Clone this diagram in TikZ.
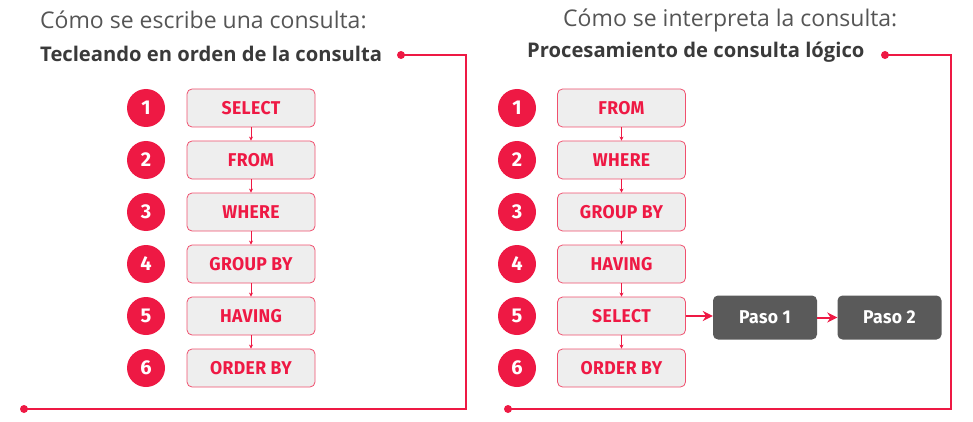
\documentclass[tikz,border=0pt]{standalone}
\usepackage{fontspec}
\setmainfont{Open Sans}
\newfontfamily\boxfont[FakeStretch=0.95,LetterSpace=2]{Fira Sans}
\newfontfamily\numfont{Fira Sans}
\usetikzlibrary{arrows.meta}
\definecolor{sqlred}{HTML}{EE1944}
\definecolor{boxedge}{HTML}{F0506E}
\definecolor{boxfill}{HTML}{EEEEEE}
\definecolor{titlegray}{HTML}{555555}
\definecolor{subgray}{HTML}{3A3A3A}
\definecolor{pasogray}{HTML}{5A5A5A}
\tikzset{
  sqlbox/.style={draw=boxedge, line width=0.8pt, fill=boxfill, rounded corners=5pt,
    minimum width=128pt, minimum height=38pt, inner sep=0pt,
    text=sqlred, font=\boxfont\bfseries\fontsize{18.5}{18.5}\selectfont},
  numcirc/.style={circle, fill=sqlred, minimum size=38pt, inner sep=0pt,
    text=white, font=\numfont\bfseries\fontsize{20}{20}\selectfont},
  pasobox/.style={fill=pasogray, rounded corners=5pt, minimum height=44pt, inner sep=0pt,
    text=white, font=\boxfont\bfseries\fontsize{18.5}{18.5}\selectfont},
  smallarr/.style={draw=sqlred, line width=0.7pt, -{Stealth[length=4pt,width=4pt]}},
  bigarr/.style={draw=sqlred, line width=2pt, -{Stealth[length=10pt,width=10pt]}},
  frame/.style={draw=sqlred, line width=1.8pt},
  title/.style={text=titlegray, font=\fontsize{23}{25}\selectfont, inner sep=0pt, anchor=west},
  subtitle/.style={text=subgray, font=\bfseries\fontsize{20.2}{22}\selectfont, inner sep=0pt, anchor=west},
}
\begin{document}
\begin{tikzpicture}[x=1pt,y=-1pt]
\useasboundingbox (0,0) rectangle (973,422);
% titles
\node[title] (lt) at (40,20) {Cómo se escribe una consulta:};
\node[subtitle] (ls) at (40,54) {Tecleando en orden de la consulta};
\node[title] (rt) at (563,20) {Cómo se interpreta la consulta:};
\node[subtitle] (rs) at (527,52) {Procesamiento de consulta lógico};
% left column
\foreach \i/\t in {1/SELECT,2/FROM,3/WHERE,4/GROUP BY,5/HAVING,6/ORDER BY}{
  \node[numcirc] (lc\i) at (146,{108+52*(\i-1)}) {\i};
  \node[sqlbox] (lb\i) at (251,{108+52*(\i-1)}) {\t};
}
\foreach \i/\j in {1/2,2/3,3/4,4/5,5/6}{ \draw[smallarr] (lb\i) -- (lb\j); }
% right column
\foreach \i/\t in {1/FROM,2/WHERE,3/GROUP BY,4/HAVING,5/SELECT,6/ORDER BY}{
  \node[numcirc] (rc\i) at (517,{108+52*(\i-1)}) {\i};
  \node[sqlbox] (rb\i) at (621.5,{108+52*(\i-1)}) {\t};
}
\foreach \i/\j in {1/2,2/3,3/4,4/5,5/6}{ \draw[smallarr] (rb\i) -- (rb\j); }
\node[pasobox, minimum width=104pt] (p1) at (765,317.5) {Paso 1};
\node[pasobox, minimum width=104pt] (p2) at (889.5,317.5) {Paso 2};
\draw[bigarr] (rb5) -- (rb5 -| p1.west);
\draw[bigarr] (p1) -- (p2);
% frames
\coordinate (la) at (401,55);
\coordinate (lz) at (24,409);
\coordinate (ra) at (885,55);
\coordinate (rz) at (508,409);
\draw[frame] (la) -- ++(65,0) |- (lz);
\draw[frame] (ra) -- ++(66,0) |- (rz);
\foreach \c in {la,lz,ra,rz}{ \fill[sqlred] (\c) circle (4pt); }
\end{tikzpicture}
\end{document}
